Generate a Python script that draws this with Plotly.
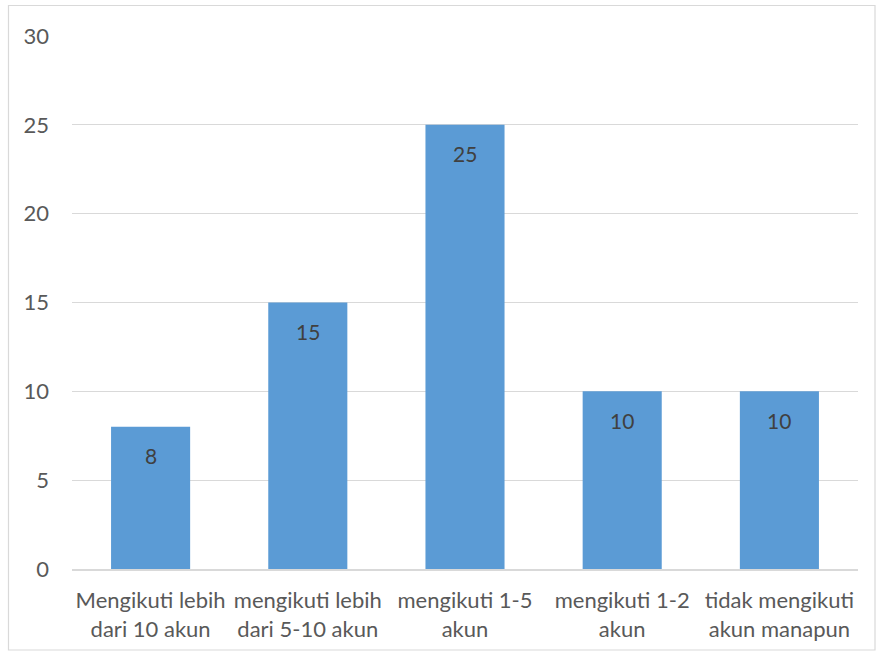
import plotly.graph_objects as go

categories = ["Mengikuti lebih<br>dari 10 akun", "mengikuti lebih<br>dari 5-10 akun",
              "mengikuti 1-5<br>akun", "mengikuti 1-2<br>akun", "tidak mengikuti<br>akun manapun"]
values = [8, 15, 25, 10, 10]
y_ticks = [0, 5, 10, 15, 20, 25, 30]

W, H = 876, 657
L, R, T, B = 72, 18, 36, 88
pw, ph = W - L - R, H - T - B

font = dict(family="Lato, Open Sans, sans-serif", size=22, color="#595959")

fig = go.Figure()
fig.add_trace(go.Bar(
    x=categories, y=values,
    marker=dict(color="#5b9bd5", line=dict(width=0)),
    hoverinfo="skip",
))
for c, v in zip(categories, values):
    fig.add_annotation(x=c, y=v, text=str(v), showarrow=False, yshift=-29,
                       font=dict(family=font["family"], size=21, color="#404040"))

def px2x(px):
    return (px - L) / pw

def py2y(py):
    return (H - B - py) / ph

fig.add_shape(type="rect", xref="paper", yref="paper",
              x0=px2x(8.5), x1=px2x(875), y0=py2y(650), y1=py2y(5.5),
              line=dict(color="#d9d9d9", width=1.2), fillcolor="rgba(0,0,0,0)", layer="below")

fig.update_layout(
    width=W, height=H,
    margin=dict(l=L, r=R, t=T, b=B, autoexpand=False),
    paper_bgcolor="white", plot_bgcolor="white",
    font=font, showlegend=False, bargap=0.497,
    xaxis=dict(showgrid=False, showline=True, linecolor="#d9d9d9", linewidth=1.5,
               ticks="", tickfont=font, ticklabelstandoff=11),
    yaxis=dict(range=[0, 30], tickvals=y_ticks, showgrid=True, gridcolor="#d9d9d9",
               gridwidth=1.2, zeroline=False, showline=False, ticks="",
               ticklabelstandoff=22, tickfont=font),
)
fig.write_html("out.html", config={"displayModeBar": False},
               post_script="document.body.style.margin='0';")
